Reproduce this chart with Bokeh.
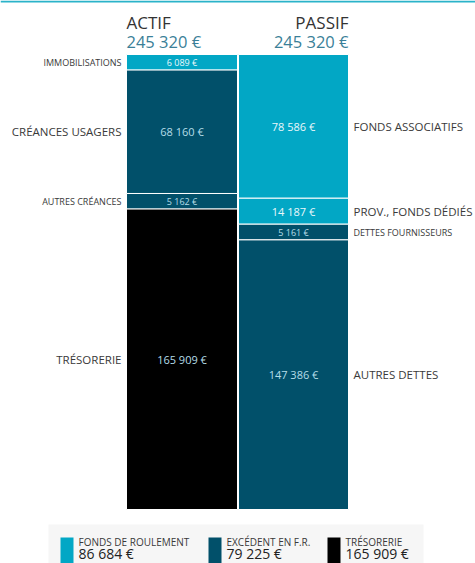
from bokeh.plotting import figure
from bokeh.models import Range1d, ColumnDataSource
from bokeh.core.properties import value
from bokeh.embed import file_html
from bokeh.resources import INLINE

# ---------------- data ----------------
actif_labels = ["IMMOBILISATIONS", "CRÉANCES USAGERS", "AUTRES CRÉANCES", "TRÉSORERIE"]
actif_values = [6089, 68160, 5162, 165909]
actif_kinds = ["fr", "exc", "exc", "treso"]

passif_labels = ["FONDS ASSOCIATIFS", "PROV., FONDS DÉDIÉS", "DETTES FOURNISSEURS", "AUTRES DETTES"]
passif_values = [78586, 14187, 5161, 147386]
passif_kinds = ["fr", "fr", "exc", "exc"]

column_titles = ["ACTIF", "PASSIF"]

legend_labels = ["FONDS DE ROULEMENT", "EXCÉDENT EN F.R.", "TRÉSORERIE"]
legend_values = [86684, 79225, 165909]
legend_kinds = ["fr", "exc", "treso"]

# ---------------- style ----------------
COLORS = {"fr": "#02a7c5", "exc": "#01506a", "treso": "#000000"}
VALUE_TEXT = {"fr": "#eaf7fb", "exc": "#b4dde8", "treso": "#b4dde8"}
FONT = value("Open Sans")
TXT = "#3a3a3a"

W, H = 475, 563
TOP, BOTTOM = 54, 509          # pixel extent of the stacked bars
MIN_SHARE = 0.035              # minimum displayed share of a small block


def fmt(v):
    return f"{v:,}".replace(",", " ") + " €"


def display_heights(vals):
    total = sum(vals)
    m = MIN_SHARE * total
    raw = [max(v, m) for v in vals]
    s = sum(raw)
    return [r * total / s for r in raw], [v < m for v in vals]


total = sum(actif_values)
k = total / (BOTTOM - TOP)      # value units per pixel


def py(pix):
    return (pix - TOP) * k


p = figure(width=W, height=H,
           x_range=Range1d(0, W), y_range=Range1d(py(H), py(0)),
           output_backend="svg", toolbar_location=None,
           min_border=0, x_axis_type=None, y_axis_type=None,
           outline_line_color=None, background_fill_color="white",
           border_fill_color="white")

# top accent line
p.quad(left=[0], right=[W], top=[py(0)], bottom=[py(2)],
       fill_color="#2bb3c9", line_color=None)

cols = [(126, 237, "left", actif_labels, actif_values, actif_kinds),
        (238, 348, "right", passif_labels, passif_values, passif_kinds)]

for (x0, x1, side, labels, vals, kinds), title in zip(cols, column_titles):
    hx = x0 if side == "left" else x1
    align = "left" if side == "left" else "right"
    p.text(x=[hx], y=[py(22)], text=[title], text_font=FONT,
           text_font_size="17px", text_color="#333333",
           text_align=align, text_baseline="middle")
    p.text(x=[hx], y=[py(41)], text=[fmt(sum(vals))], text_font=FONT,
           text_font_size="16.5px", text_color="#3a7f98",
           text_align=align, text_baseline="middle")

    heights, small = display_heights(vals)
    tops, bottoms = [], []
    acc = 0.0
    for h in heights:
        tops.append(acc)
        acc += h
        bottoms.append(acc)
    mids = [(t + b) / 2 for t, b in zip(tops, bottoms)]

    src = ColumnDataSource(dict(
        top=tops, bottom=bottoms, mid=mids,
        fill=[COLORS[c] for c in kinds],
        vtxt=[fmt(v) for v in vals],
        vcol=[VALUE_TEXT[c] for c in kinds],
        vsize=["9px" if s else "11px" for s in small],
        lsize=["9px" if s else "11.5px" for s in small],
        label=labels,
    ))
    p.quad(left=x0, right=x1, top="top", bottom="bottom", source=src,
           fill_color="fill", line_color="white", line_width=1)
    p.text(x=(x0 + x1) / 2, y="mid", text="vtxt", source=src,
           text_font=FONT, text_font_size="vsize", text_color="vcol",
           text_align="center", text_baseline="middle")
    lx = x0 - 5 if side == "left" else x1 + 5
    p.text(x=lx, y="mid", text="label", source=src,
           text_font=FONT, text_font_size="lsize", text_color=TXT,
           text_align="right" if side == "left" else "left",
           text_baseline="middle")

# legend
p.quad(left=[48], right=[423], top=[py(524)], bottom=[py(H)],
       fill_color="#f6f6f6", line_color=None)
sw_x = [60, 208, 327]
lsrc = ColumnDataSource(dict(
    left=sw_x, right=[x + 13 for x in sw_x],
    tx=[x + 18 for x in sw_x],
    fill=[COLORS[c] for c in legend_kinds],
    lab=legend_labels, val=[fmt(v) for v in legend_values],
))
p.quad(left="left", right="right", top=py(537), bottom=py(H), source=lsrc,
       fill_color="fill", line_color=None)
p.text(x="tx", y=py(541), text="lab", source=lsrc, text_font=FONT,
       text_font_size="10px", text_color=TXT, text_align="left",
       text_baseline="middle")
p.text(x="tx", y=py(553), text="val", source=lsrc, text_font=FONT,
       text_font_size="14px", text_color="#222222", text_align="left",
       text_baseline="middle")

open("out.html", "w").write(file_html(p, INLINE))
